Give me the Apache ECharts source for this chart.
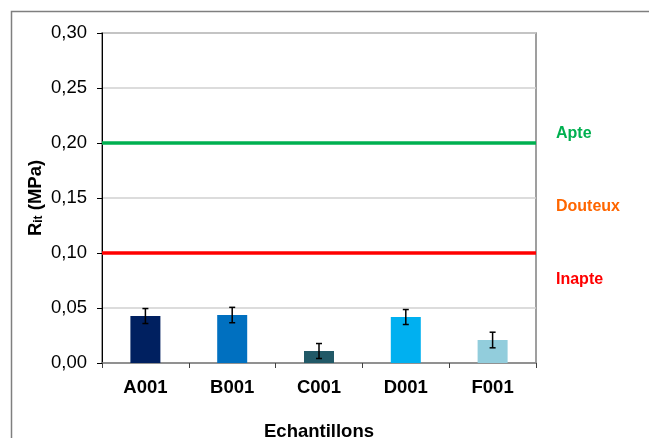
<!DOCTYPE html>
<html>
<head>
<meta charset="utf-8">
<script src="https://cdn.jsdelivr.net/npm/echarts@6/dist/echarts.min.js"></script>
<style>
html,body{margin:0;padding:0;background:#fff;}
#c{width:649px;height:438px;}
</style>
</head>
<body>
<div id="c"></div>
<script>
const categories = ['A001', 'B001', 'C001', 'D001', 'F001'];
const values = [0.0427, 0.0436, 0.0109, 0.0418, 0.0209];
const errors = [0.0068, 0.0070, 0.0068, 0.0068, 0.0071];
const barColors = ['#002060', '#0070C0', '#215967', '#00B0F0', '#92CDDC'];
const yTicks = [0, 0.05, 0.10, 0.15, 0.20, 0.25, 0.30];
const thresholds = [
  { name: 'Apte', value: 0.20, color: '#00B050' },
  { name: 'Inapte', value: 0.10, color: '#FF0000' }
];
const zoneLabels = [
  { text: 'Apte', color: '#00B050', y: 134 },
  { text: 'Douteux', color: '#FF6600', y: 207 },
  { text: 'Inapte', color: '#FF0000', y: 280 }
];

const FONT = 'Liberation Sans, Arial, sans-serif';
const FS = 18.5;
const chart = echarts.init(document.getElementById('c'));

const option = {
  animation: false,
  backgroundColor: '#fff',
  textStyle: { fontFamily: FONT },
  graphic: [
    { type: 'polyline', shape: { points: [[11.5, 438], [11.5, 11.5], [649, 11.5]] },
      style: { stroke: '#7f7f7f', lineWidth: 1.5, fill: null }, z: 0 }
  ].concat(zoneLabels.map(l => ({
    type: 'text', x: 556, y: l.y,
    style: { text: l.text, fill: l.color, font: 'bold 16px ' + FONT, verticalAlign: 'middle', align: 'left' }
  }))),
  grid: { left: 102, top: 33, width: 434, height: 330, show: true, borderColor: '#808080', borderWidth: 1.5,
    backgroundColor: 'transparent', containLabel: false, outerBoundsMode: 'none' },
  xAxis: {
    type: 'category',
    data: categories,
    axisLine: { lineStyle: { color: '#808080', width: 1.5 } },
    axisTick: { show: true, length: 5, lineStyle: { color: '#404040' } },
    axisLabel: { color: '#000', fontSize: FS, fontWeight: 'bold', fontFamily: FONT, margin: 15 },
    name: 'Echantillons',
    nameLocation: 'middle',
    nameGap: 59,
    nameMoveOverlap: false,
    nameTextStyle: { color: '#000', fontSize: FS, fontWeight: 'bold', fontFamily: FONT }
  },
  yAxis: {
    type: 'value',
    min: 0, max: 0.3, interval: 0.05,
    axisLine: { show: true, lineStyle: { color: '#000', width: 1 } },
    axisTick: { show: true, length: 5, lineStyle: { color: '#000' } },
    axisLabel: { color: '#000', fontSize: FS, fontFamily: FONT, margin: 15,
      formatter: v => v.toFixed(2).replace('.', ',') },
    splitLine: { show: true, lineStyle: { color: '#d0d0d0', width: 1.5 } },
    name: '{b|R}{s|it}{b| (MPa)}',
    nameLocation: 'middle',
    nameRotate: 90,
    nameGap: 57,
    nameMoveOverlap: false,
    nameTextStyle: {
      rich: {
        b: { fontSize: FS, fontWeight: 'bold', color: '#000', fontFamily: FONT, verticalAlign: 'bottom', lineHeight: 22 },
        s: { fontSize: 12, fontWeight: 'bold', color: '#000', fontFamily: FONT, verticalAlign: 'bottom', lineHeight: 16 }
      }
    }
  },
  series: [
    {
      type: 'bar',
      barWidth: 30,
      data: values.map((v, i) => ({ value: v, itemStyle: { color: barColors[i] } })),
      markLine: {
        silent: true,
        symbol: ['none', 'none'],
        label: { show: false },
        data: thresholds.map(t => ({ yAxis: t.value, lineStyle: { color: t.color, width: 3.5, type: 'solid' } }))
      },
      z: 2
    },
    {
      type: 'custom',
      data: values.map((v, i) => [i, v - errors[i], v + errors[i]]),
      renderItem: function (params, api) {
        const x = api.value(0);
        const lo = api.coord([x, api.value(1)]);
        const hi = api.coord([x, api.value(2)]);
        const w = 3;
        const st = { stroke: '#000', lineWidth: 1.5 };
        return {
          type: 'group',
          children: [
            { type: 'line', shape: { x1: lo[0], y1: lo[1], x2: hi[0], y2: hi[1] }, style: st },
            { type: 'line', shape: { x1: lo[0] - w, y1: lo[1], x2: lo[0] + w, y2: lo[1] }, style: st },
            { type: 'line', shape: { x1: hi[0] - w, y1: hi[1], x2: hi[0] + w, y2: hi[1] }, style: st }
          ]
        };
      },
      z: 5
    }
  ]
};
chart.setOption(option);
</script>
</body>
</html>
